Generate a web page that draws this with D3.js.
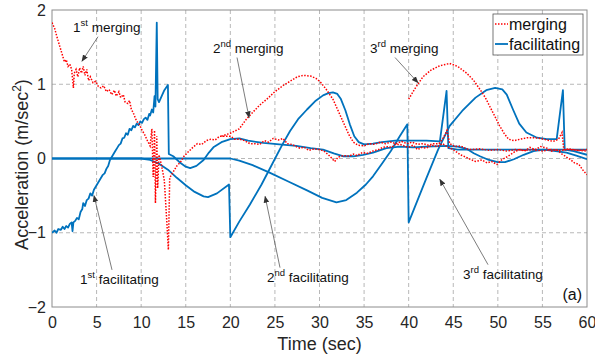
<!DOCTYPE html>
<html>
<head>
<meta charset="utf-8">
<script src="https://cdn.jsdelivr.net/npm/d3@7"></script>
<style>
  body { margin: 0; background: #fff; }
  svg { font-family: Arial, "Liberation Sans", sans-serif; }
</style>
</head>
<body>
<div class="chart"></div>
<script>
// values, [time (sec), acceleration (m/sec^2)]
const xTicks = [0, 5, 10, 15, 20, 25, 30, 35, 40, 45, 50, 55, 60];
const yTicks = [-2, -1, 0, 1, 2];

const merging1 = [[0,1.83],[0.3,1.75],[0.6,1.62],[0.9,1.5],[1.2,1.38],[1.4,1.3],[1.6,1.33],[1.8,1.24],[2.0,1.27],
  [2.2,1.2],[2.35,1.02],[2.4,0.95],[2.5,1.15],[2.7,1.2],[2.9,1.1],[3.1,1.22],[3.3,1.15],[3.5,1.24],[3.7,1.12],
  [3.9,1.2],[4.1,1.05],[4.3,1.1],[4.6,1.02],[4.9,1.04],[5.2,0.97],[5.5,0.95],[5.8,0.98],[6.1,0.9],[6.4,0.93],
  [6.7,0.86],[7.0,0.92],[7.2,0.84],[7.5,0.9],[7.7,0.82],[8.0,0.86],[8.2,0.76],[8.5,0.74],[8.7,0.78],[8.9,0.66],
  [9.1,0.62],[9.3,0.56],[9.5,0.5],[9.8,0.46],[10.1,0.38],[10.4,0.32],[10.7,0.24],[11.0,0.17],[11.2,0.4],
  [11.35,-0.25],[11.5,0.38],[11.6,-0.6],[11.75,0.3],[11.85,-0.4],[12.0,0.05],[12.3,-0.1],[12.6,-0.3],[12.9,-0.9],
  [13.05,-1.23],[13.2,-0.26],[13.6,-0.18],[14.0,-0.1],[14.4,-0.05],[14.8,0.03],[15.2,0.08],[15.8,0.15],[16.3,0.2],
  [16.8,0.19],[17.3,0.24],[17.8,0.26],[18.3,0.25],[18.8,0.3],[19.4,0.3],[20,0.3],[20.5,0.26],[21.1,0.26],
  [21.6,0.24],[22.2,0.2],[22.8,0.2],[23.3,0.19],[23.8,0.24],[24.3,0.22],[24.8,0.27],[25.4,0.25],[25.9,0.27],
  [26.4,0.2],[26.9,0.19],[27.4,0.16],[27.8,0.14],[28.3,0.15],[28.8,0.11],[29.4,0.13],[30,0.12],[30.5,0.1],
  [31,0.05],[31.4,0.0],[31.7,-0.04],[32.1,0.02],[32.7,0.04],[33.3,0.03],[33.8,0.06],[34.2,0.04],[34.8,0.08],
  [35.4,0.07],[36,0.1],[36.6,0.12],[37.1,0.15],[37.5,0.16],[38.1,0.15],[38.5,0.19],[39,0.19],[40,0.15],
  [40.5,0.18],[41,0.12],[41.5,0.15],[42,0.14],[42.6,0.18],[43.2,0.16],[43.8,0.2],[44.3,0.16],[45,0.12],
  [45.8,0.05],[46.4,0.02],[46.9,-0.01],[47.5,-0.04],[48.2,-0.02],[48.8,-0.06],[49.3,-0.04],[49.9,-0.08],
  [50.4,-0.02],[51,0.02],[51.5,0.06],[52,0.1],[52.5,0.12],[53,0.1],[53.6,0.15],[54.2,0.12],[54.8,0.16],
  [55.5,0.14],[56,0.1],[56.6,0.12],[57.2,0.06],[57.7,0.02],[58.1,-0.01],[58.6,-0.06],[59.1,-0.08],[59.5,-0.15],[60,-0.22]];

const merging2 = [[19,0.3],[20,0.34],[21,0.4],[21.8,0.53],[22.5,0.62],[23.3,0.72],[24.1,0.8],[25,0.9],[26,0.99],
  [26.7,1.04],[27.5,1.1],[28.2,1.12],[29,1.11],[29.6,1.08],[30.1,1.03],[30.7,0.94],[31.5,0.8],[32.1,0.64],
  [32.7,0.48],[33.3,0.32],[33.8,0.22],[34.3,0.18],[35,0.17],[35.6,0.2],[36.2,0.19],[36.8,0.22],[37.4,0.2],
  [38,0.22],[38.6,0.2],[39.2,0.23],[39.8,0.2],[40.4,0.22],[41,0.19],[41.6,0.2],[42.2,0.18],[42.8,0.2],
  [43.4,0.2],[43.9,0.28],[44.3,0.38],[44.6,0.2],[45.2,0.16],[45.8,0.17],[46.5,0.13],[47,0.12],[48,0.13],
  [49,0.11],[50,0.12],[51,0.1],[52,0.12],[53,0.11],[54,0.12],[55,0.1],[56,0.12],[57,0.11],[58,0.12],[59,0.11],[60,0.12]];

const merging3 = [[40,0.8],[40.8,0.96],[41.6,1.1],[42.5,1.19],[43.5,1.25],[44.6,1.28],[45.5,1.24],[46.5,1.15],
  [47.3,1.05],[48,0.93],[48.6,0.82],[49.1,0.7],[49.7,0.56],[50.2,0.44],[50.7,0.34],[51.2,0.26],[51.8,0.24],
  [52.5,0.26],[53.3,0.28],[54,0.28],[54.8,0.27],[55.5,0.25],[56.2,0.23],[56.8,0.26],[57.2,0.35],[57.4,0.12],
  [58,0.13],[59,0.11],[60,0.1]];

const facilitating1 = [[0,-1.0],[0.3,-0.97],[0.5,-1.0],[0.7,-0.95],[1,-0.96],[1.2,-0.92],[1.4,-0.95],[1.6,-0.91],
  [1.8,-0.93],[2.0,-0.88],[2.2,-0.86],[2.3,-0.98],[2.4,-0.86],[2.6,-0.84],[2.8,-0.8],[3.0,-0.82],[3.2,-0.72],
  [3.4,-0.68],[3.5,-0.6],[3.7,-0.64],[3.9,-0.56],[4.1,-0.54],[4.3,-0.47],[4.5,-0.5],[4.7,-0.42],[4.9,-0.38],
  [5.1,-0.34],[5.3,-0.3],[5.5,-0.26],[5.7,-0.22],[5.9,-0.2],[6.1,-0.14],[6.3,-0.1],[6.5,-0.02],[6.7,0.02],
  [6.9,0.06],[7.1,0.1],[7.3,0.14],[7.5,0.18],[7.7,0.2],[7.9,0.27],[8.1,0.28],[8.3,0.34],[8.5,0.32],[8.7,0.4],
  [8.9,0.38],[9.1,0.44],[9.3,0.42],[9.5,0.47],[9.7,0.45],[9.9,0.5],[10.1,0.48],[10.3,0.53],[10.5,0.55],
  [10.7,0.52],[10.9,0.6],[11.0,0.58],[11.2,0.66],[11.35,0.62],[11.5,0.84],[11.6,0.7],[11.75,1.83],[11.85,0.8],
  [12.0,0.76],[12.3,0.84],[12.6,0.92],[13.0,0.99],[13.1,0.06],[13.6,0.03],[14.3,-0.05],[15,-0.11],[15.5,-0.13],
  [16.2,-0.1],[17,-0.02],[17.6,0.08],[18.1,0.15],[19,0.22],[20,0.26],[21,0.27],[22,0.24],[23.7,0.21],
  [25.5,0.19],[27.4,0.17],[29,0.14],[30.4,0.12],[31.6,0.07],[32.7,0.03],[33.8,0.03],[34.9,0.05],[36,0.08],
  [37.5,0.14],[39,0.16],[40.5,0.15],[42,0.16],[44.3,0.17],[45.5,0.16],[46.5,0.13],[47.3,0.07],[48,0.03],
  [49,-0.02],[50,-0.05],[50.8,-0.05],[51.8,-0.01],[52.9,0.05],[54,0.1],[55.1,0.12],[56.5,0.1],[57.7,0.08],
  [58.8,0.04],[60,-0.01]];

const facilitating2 = [[0,0],[10,0],[11,-0.02],[12,-0.07],[13,-0.15],[14,-0.26],[15,-0.36],[16,-0.45],[17,-0.51],
  [17.5,-0.52],[18.5,-0.47],[19.85,-0.35],[20,-1.06],[21,-0.85],[22.2,-0.62],[23.5,-0.35],[24.8,-0.05],
  [25.8,0.18],[26.7,0.37],[27.6,0.53],[28.6,0.66],[29.5,0.77],[30.4,0.85],[31,0.88],[31.5,0.89],[32,0.87],
  [32.4,0.8],[32.9,0.65],[33.4,0.46],[33.9,0.3],[34.4,0.22],[35,0.19],[36,0.2],[37,0.22],[38.5,0.24],[40,0.24],
  [42,0.24],[43.5,0.23],[44.25,0.91],[44.45,0.14],[45.5,0.12],[47,0.12],[50,0.12],[55,0.12],[60,0.12]];

const facilitating3 = [[0,0],[20,0],[21,-0.03],[22.5,-0.09],[24.4,-0.19],[26.5,-0.31],[28.6,-0.43],[30.3,-0.53],
  [31.9,-0.59],[33,-0.56],[34.2,-0.46],[35.2,-0.35],[36,-0.24],[37,-0.07],[38,0.1],[39,0.3],[39.85,0.46],
  [40,-0.86],[41,-0.56],[42,-0.26],[43.3,0.12],[44.6,0.44],[46,0.64],[47.5,0.82],[48.7,0.92],[49.7,0.95],
  [50.5,0.93],[51,0.86],[51.7,0.66],[52.4,0.47],[53.2,0.35],[54.4,0.28],[55.5,0.26],[56.6,0.26],[57.3,0.92],
  [57.5,0.12],[58.5,0.1],[60,0.05]];

// annotation labels: ordinal, superscript, word, text anchor [t, a], arrow from [t, a] to [t, a]
const notes = [
  ["1", "st", "merging", [2.36, 1.71], [5.16, 1.64], [3.36, 1.31]],
  ["2", "nd", "merging", [18.05, 1.415], [20.75, 1.36], [22.1, 0.55]],
  ["3", "rd", "merging", [35.66, 1.415], [38.47, 1.36], [41.05, 1.02]],
  ["1", "st", "facilitating", [3.14, -1.685], [6.73, -1.5], [4.71, -0.5]],
  ["2", "nd", "facilitating", [24.1, -1.66], [25.57, -1.47], [23.9, -0.51]],
  ["3", "rd", "facilitating", [46.1, -1.62], [48.9, -1.43], [43.5, -0.28]]
];

const width = 595, height = 360;
const margin = {left: 52, right: 8, top: 10, bottom: 53};

const x = d3.scaleLinear().domain([0, 60]).range([margin.left, width - margin.right]);
const y = d3.scaleLinear().domain([-2, 2]).range([height - margin.bottom, margin.top]);

const svg = d3.select(".chart").append("svg")
    .attr("width", width)
    .attr("height", height);

const defs = svg.append("defs");
defs.append("clipPath").attr("id", "plot")
  .append("rect")
    .attr("x", x(0)).attr("y", y(2))
    .attr("width", x(60) - x(0)).attr("height", y(-2) - y(2));
defs.append("marker")
    .attr("id", "arrow")
    .attr("viewBox", "0 0 10 10")
    .attr("refX", 9).attr("refY", 5)
    .attr("markerWidth", 7).attr("markerHeight", 7)
    .attr("markerUnits", "userSpaceOnUse")
    .attr("orient", "auto")
  .append("path")
    .attr("d", "M0,1 L10,5 L0,9 Z")
    .attr("fill", "#333");

//grid
svg.append("g").selectAll("line")
  .data(xTicks.slice(1, -1)).enter().append("line")
    .attr("x1", d => x(d)).attr("x2", d => x(d))
    .attr("y1", y(2)).attr("y2", y(-2))
    .attr("stroke", "#a6a6a6").attr("stroke-width", 0.8).attr("stroke-dasharray", "4,3");
svg.append("g").selectAll("line")
  .data(yTicks.slice(1, -1)).enter().append("line")
    .attr("x1", x(0)).attr("x2", x(60))
    .attr("y1", d => y(d)).attr("y2", d => y(d))
    .attr("stroke", "#a6a6a6").attr("stroke-width", 0.8).attr("stroke-dasharray", "4,3");

//axes
const xAxis = svg.append("g")
    .attr("transform", `translate(0,${y(-2)})`)
    .call(d3.axisBottom(x).tickValues(xTicks).tickSize(0).tickPadding(10));
const yAxis = svg.append("g")
    .attr("transform", `translate(${x(0)},0)`)
    .call(d3.axisLeft(y).tickValues(yTicks).tickSize(0).tickPadding(6).tickFormat(d3.format("d")));
[xAxis, yAxis].forEach(g => {
  g.select(".domain").remove();
  g.selectAll("text").attr("font-size", 16).attr("fill", "#262626")
    .attr("font-family", "Arial, 'Liberation Sans', sans-serif");
});

svg.append("rect")
    .attr("x", x(0)).attr("y", y(2))
    .attr("width", x(60) - x(0)).attr("height", y(-2) - y(2))
    .attr("fill", "none").attr("stroke", "#8c8c8c").attr("stroke-width", 1);

//curves
const line = d3.line().x(d => x(d[0])).y(d => y(d[1]));
const curves = svg.append("g").attr("clip-path", "url(#plot)");

[facilitating1, facilitating2, facilitating3].forEach(series => {
  curves.append("path")
    .attr("d", line(series))
    .attr("fill", "none")
    .attr("stroke", "#0072bd")
    .attr("stroke-width", 1.8)
    .attr("stroke-linejoin", "round");
});
[merging1, merging2, merging3].forEach(series => {
  curves.append("path")
    .attr("d", line(series))
    .attr("fill", "none")
    .attr("stroke", "#ff0000")
    .attr("stroke-width", 1.5)
    .attr("stroke-dasharray", "1.5,1.5");
});

//annotations
const notesG = svg.append("g");
notes.forEach(n => {
  notesG.append("line")
    .attr("x1", x(n[4][0])).attr("y1", y(n[4][1]))
    .attr("x2", x(n[5][0])).attr("y2", y(n[5][1]))
    .attr("stroke", "#444").attr("stroke-width", 0.7)
    .attr("marker-end", "url(#arrow)");
  const t = notesG.append("text")
    .attr("x", x(n[3][0])).attr("y", y(n[3][1]))
    .attr("font-size", 13.5).attr("fill", "#111");
  t.append("tspan").text(n[0]);
  t.append("tspan").attr("dy", -6).attr("font-size", 9.5).text(n[1]);
  t.append("tspan").attr("dy", 6).text("\u00a0" + n[2]);
});

svg.append("text")
    .attr("x", x(60) - 5).attr("y", y(-2) - 7)
    .attr("text-anchor", "end")
    .attr("font-size", 16).attr("fill", "#111")
    .text("(a)");

//axis titles
svg.append("text")
    .attr("x", (x(0) + x(60)) / 2).attr("y", 350)
    .attr("text-anchor", "middle")
    .attr("font-size", 18).attr("fill", "#262626")
    .text("Time (sec)");

const yTitle = svg.append("text")
    .attr("transform", `translate(28,${(y(2) + y(-2)) / 2 + 6}) rotate(-90)`)
    .attr("text-anchor", "middle")
    .attr("font-size", 18).attr("fill", "#262626");
yTitle.append("tspan").text("Acceleration (m/sec");
yTitle.append("tspan").attr("dy", -7).attr("font-size", 12).text("2");
yTitle.append("tspan").attr("dy", 7).text(")");

//legend
const legend = svg.append("g").attr("transform", `translate(${x(60) - 94},${y(2) + 4})`);
legend.append("rect")
    .attr("width", 90).attr("height", 41)
    .attr("fill", "#fff").attr("stroke", "#555").attr("stroke-width", 0.8);
legend.append("line")
    .attr("x1", 2).attr("x2", 15).attr("y1", 10).attr("y2", 10)
    .attr("stroke", "#ff0000").attr("stroke-width", 1.5).attr("stroke-dasharray", "1.5,1.5");
legend.append("line")
    .attr("x1", 2).attr("x2", 15).attr("y1", 30).attr("y2", 30)
    .attr("stroke", "#0072bd").attr("stroke-width", 1.8);
legend.append("text").attr("x", 16).attr("y", 16).attr("font-size", 16).attr("fill", "#111").text("merging");
legend.append("text").attr("x", 16).attr("y", 36).attr("font-size", 16).attr("fill", "#111").text("facilitating");
</script>
</body>
</html>
